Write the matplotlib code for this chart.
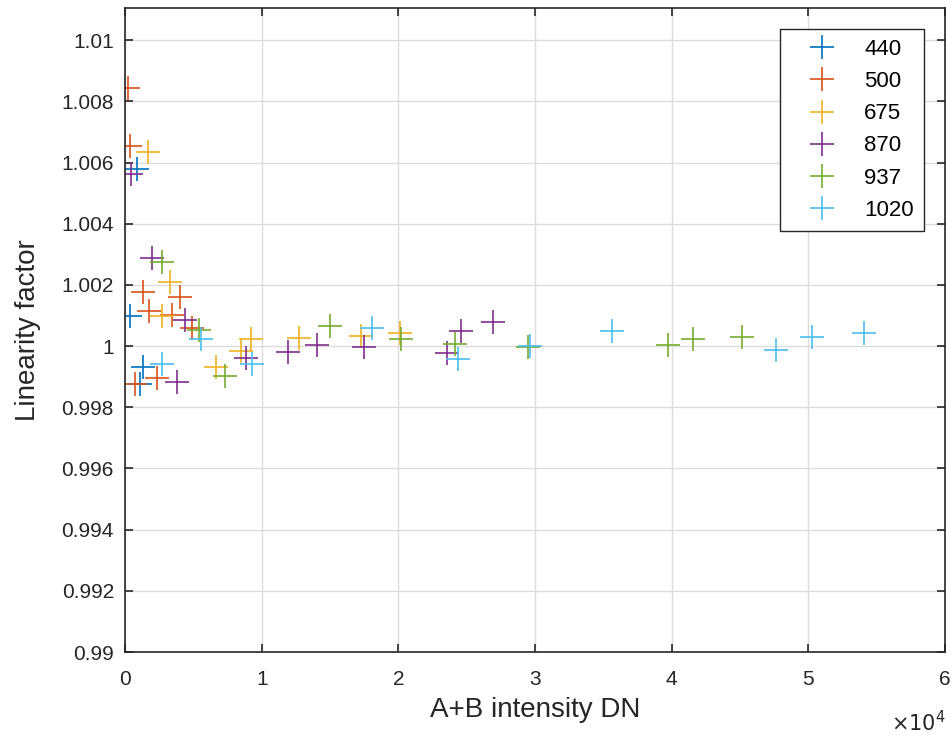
import matplotlib
matplotlib.use("Agg")
import matplotlib.pyplot as plt
from matplotlib.ticker import FuncFormatter, MultipleLocator

plt.rcParams["font.family"] = ["Liberation Sans", "DejaVu Sans"]

# Linearity factor vs A+B intensity, one series per wavelength (nm)
labels = ["440", "500", "675", "870", "937", "1020"]
colors = ["#0072BD", "#D95319", "#EDB120", "#7E2F8E", "#77AC30", "#4DBEEE"]

x_440 = [370, 860, 1350, 1100]
y_440 = [1.00097, 1.00578, 0.99932, 0.99876]

x_500 = [245, 370, 1350, 1720, 3430, 4040, 4900, 2330, 740]
y_500 = [1.00844, 1.00655, 1.00176, 1.00114, 1.00103, 1.00162, 1.0006, 0.99897, 0.99876]

x_675 = [1670, 3300, 2700, 6670, 8460, 9190, 12700, 17280, 20100]
y_675 = [1.00636, 1.00211, 1.00097, 0.99932, 0.99984, 1.00022, 1.00025, 1.00032, 1.00043]

x_870 = [440, 1960, 4410, 3800, 8870, 11960, 14020, 17520, 23580, 24550, 26900]
y_870 = [1.00562, 1.00289, 1.00086, 0.99883, 0.99962, 0.99982, 1.00003, 0.99998,
         0.99977, 1.00049, 1.0008]

x_937 = [2700, 5390, 7350, 15000, 20220, 24140, 29520, 39760, 41570, 45180]
y_937 = [1.00276, 1.00054, 0.99903, 1.00065, 1.00022, 1.00008, 0.99997, 1.00005,
         1.00024, 1.00031]

x_1020 = [5590, 2700, 9310, 18090, 24380, 29600, 35640, 47630, 50270, 54040]
y_1020 = [1.00022, 0.99943, 0.99943, 1.0006, 0.99959, 1.0, 1.00049, 0.99988,
          1.00031, 1.00042]

xs = [x_440, x_500, x_675, x_870, x_937, x_1020]
ys = [y_440, y_500, y_675, y_870, y_937, y_1020]

fig = plt.figure(figsize=(9.53, 7.37), dpi=100)
ax = fig.add_axes([0.1312, 0.1153, 0.8604, 0.8738])

for x, y, c, lab in zip(xs, ys, colors, labels):
    ax.plot(x, y, linestyle="none", marker="+", markersize=17,
            markeredgewidth=1.2, color=c, label=lab)

ax.set_xlim(0, 60000)
ax.set_ylim(0.99, 1.01105)
ax.xaxis.set_major_locator(MultipleLocator(10000))
ax.yaxis.set_major_locator(MultipleLocator(0.002))
ax.xaxis.set_major_formatter(FuncFormatter(lambda v, p: f"{v / 1e4:g}"))
ax.yaxis.set_major_formatter(FuncFormatter(lambda v, p: f"{v:.3f}".rstrip("0").rstrip(".")))

ax.grid(True, color="#dcdcdc", linewidth=1)
ax.set_axisbelow(True)
ax.tick_params(direction="in", top=True, right=True, length=6, width=1.2,
               labelsize=15, colors="#262626")
ax.tick_params(axis="x", pad=13)
ax.tick_params(axis="y", pad=8)
for s in ax.spines.values():
    s.set_color("#262626")
    s.set_linewidth(1.2)

ax.set_xlabel("A+B intensity DN", fontsize=20, color="#262626", labelpad=6)
ax.set_ylabel("Linearity factor", fontsize=20, color="#262626", labelpad=15)
fig.text(0.992, 0.02, r"$\times10^4$", ha="right", va="center",
         fontsize=15, color="#262626")

leg = ax.legend(loc="upper right", fontsize=16, frameon=True, fancybox=False,
                borderpad=0.45, labelspacing=0.5, handlelength=2.9,
                handletextpad=0.45, borderaxespad=0.95,
                bbox_to_anchor=(1.0, 1.0))
leg.get_frame().set_edgecolor("#262626")
leg.get_frame().set_linewidth(1.0)
leg.get_frame().set_alpha(1.0)

fig.savefig("out.png", dpi=100)
